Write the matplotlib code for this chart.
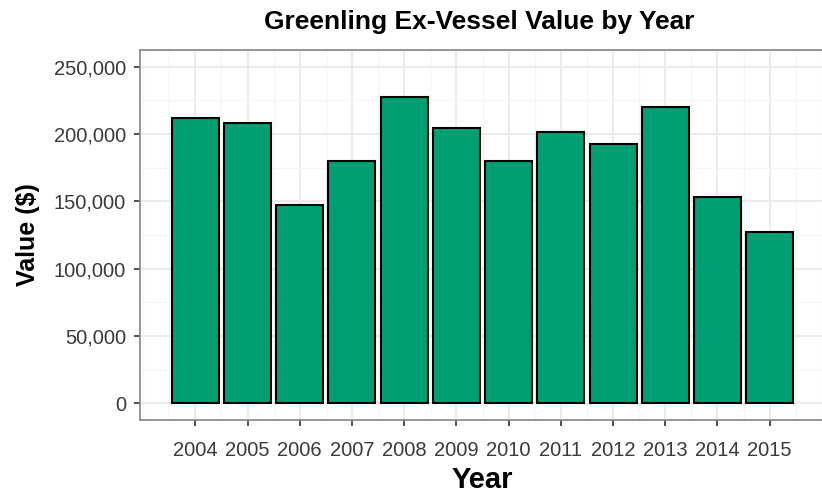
import matplotlib
matplotlib.use("Agg")
import matplotlib.pyplot as plt
from matplotlib.ticker import FuncFormatter, MultipleLocator

years = [2004, 2005, 2006, 2007, 2008, 2009, 2010, 2011, 2012, 2013, 2014, 2015]
values = [211600, 208600, 147400, 180000, 227900, 204200, 180000, 201300, 192400, 220500, 153100, 127600]
y_ticks = [0, 50000, 100000, 150000, 200000, 250000]

plt.rcParams['font.family'] = ['Liberation Sans', 'DejaVu Sans']

fig = plt.figure(figsize=(8.22, 4.97), dpi=100)
ax = fig.add_axes([140/822, 77/497, (825-140)/822, (420-50)/497])

ax.set_axisbelow(True)
ax.bar(years, values, width=0.9, color='#009E73', edgecolor='black', linewidth=1.5, zorder=3)

ax.set_xlim(2002.94, 2016.06)
ax.set_ylim(-12500, 262500)
ax.set_xticks(years)
ax.set_yticks(y_ticks)
ax.xaxis.set_minor_locator(MultipleLocator(0.5))
ax.yaxis.set_minor_locator(MultipleLocator(25000))
ax.grid(which='major', color='#EBEBEB', linewidth=1.4)
ax.grid(which='minor', color='#F5F5F5', linewidth=0.8)
ax.tick_params(which='minor', length=0)
ax.tick_params(which='major', length=4, width=1.2, color='#333333', labelsize=14.5, labelcolor='#3a3a3a')
ax.tick_params(axis='x', which='major', pad=11)
ax.tick_params(axis='y', which='major', pad=6)
ax.yaxis.set_major_formatter(FuncFormatter(lambda v, p: f"{int(v):,}"))

for s in ax.spines.values():
    s.set_color('#8c8c8c')
    s.set_linewidth(1.3)

ax.set_xlabel('Year', fontsize=21, fontweight='bold', va='center')
ax.xaxis.set_label_coords(0.5, (420-480)/370)
ax.set_ylabel('Value ($)', fontsize=18, fontweight='bold', va='center')
ax.yaxis.set_label_coords((28-140)/685, 0.5)
fig.text(479/822, 1-22/497, 'Greenling Ex-Vessel Value by Year', fontsize=19, fontweight='bold',
         ha='center', va='center')

fig.savefig('out.png', dpi=100)
